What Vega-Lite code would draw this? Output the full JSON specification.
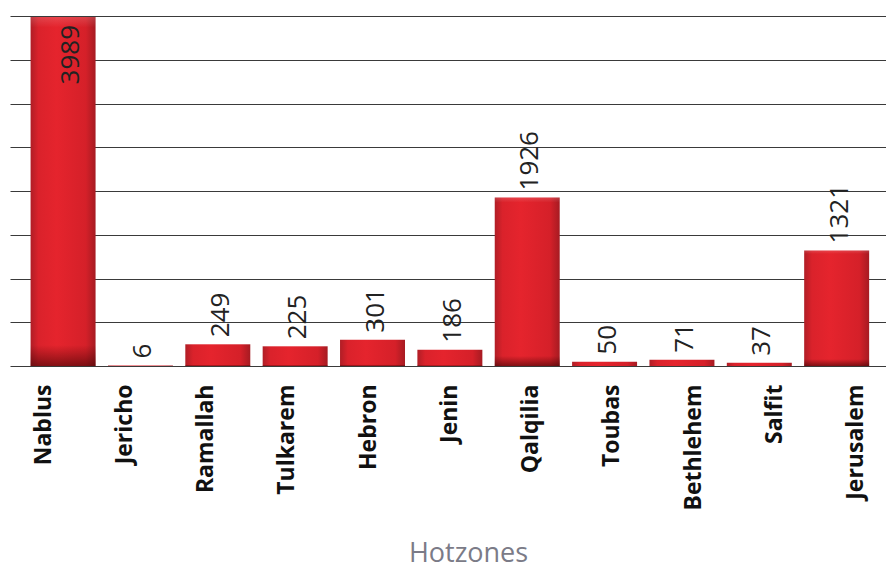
{
  "$schema": "https://vega.github.io/schema/vega-lite/v6.json",
  "autosize": "none",
  "padding": {"left": 10, "top": 16, "right": 0, "bottom": 202},
  "width": 876,
  "height": 350,
  "background": "white",
  "config": {"view": {"stroke": null}, "font": "Open Sans"},
  "data": {"values": [
    {"zone": "Nablus", "count": 3989},
    {"zone": "Jericho", "count": 6},
    {"zone": "Ramallah", "count": 249},
    {"zone": "Tulkarem", "count": 225},
    {"zone": "Hebron", "count": 301},
    {"zone": "Jenin", "count": 186},
    {"zone": "Qalqilia", "count": 1926},
    {"zone": "Toubas", "count": 50},
    {"zone": "Bethlehem", "count": 71},
    {"zone": "Salfit", "count": 37},
    {"zone": "Jerusalem", "count": 1321}
  ]},
  "encoding": {
    "x": {
      "field": "zone", "type": "nominal", "sort": null,
      "scale": {"paddingInner": 0.16, "paddingOuter": 0.242, "align": 0.55},
      "axis": {
        "title": "Hotzones", "titleFont": "Open Sans", "titleFontSize": 27, "titleFontWeight": "normal",
        "titleColor": "#7b7b87", "titleX": 458, "titleY": 195, "titleBaseline": "alphabetic", "titleAnchor": "middle",
        "labelAngle": -90, "labelAlign": "right", "labelBaseline": "middle",
        "labelFont": "Open Sans", "labelFontSize": 23, "labelFontWeight": "bold", "labelColor": "#111",
        "labelPadding": 18, "labelOffset": {"expr": "(datum.index - 0.5) * 39"},
        "ticks": false, "domain": false, "grid": false
      }
    },
    "y": {
      "field": "count", "type": "quantitative",
      "scale": {"domain": [0, 4000], "nice": false},
      "axis": {
        "title": null, "labels": false, "ticks": false, "domain": false,
        "values": [0, 500, 1000, 1500, 2000, 2500, 3000, 3500, 4000],
        "grid": true, "gridColor": "#3a3a3a", "gridWidth": 1, "gridOpacity": 1
      }
    }
  },
  "layer": [
    {
      "mark": {
        "type": "bar",
        "color": {
          "gradient": "linear", "x1": 0, "y1": 0, "x2": 1, "y2": 0,
          "stops": [
            {"offset": 0, "color": "#b01e26"},
            {"offset": 0.12, "color": "#da222b"},
            {"offset": 0.4, "color": "#e5242d"},
            {"offset": 0.85, "color": "#d52029"},
            {"offset": 1, "color": "#a61b22"}
          ]
        }
      }
    },
    {
      "mark": {
        "type": "bar",
        "color": {
          "gradient": "linear", "x1": 0, "y1": 0, "x2": 0, "y2": 1,
          "stops": [
            {"offset": 0, "color": "rgba(255,255,255,0.15)"},
            {"offset": 0.03, "color": "rgba(255,255,255,0)"},
            {"offset": 0.94, "color": "rgba(60,0,0,0)"},
            {"offset": 1, "color": "rgba(50,0,0,0.55)"}
          ]
        }
      }
    },
    {
      "transform": [{"filter": "datum.count < 3000"}],
      "mark": {"type": "text", "angle": 270, "align": "left", "baseline": "middle", "dx": 7, "dy": 3, "font": "Open Sans", "fontSize": 26, "color": "#222"},
      "encoding": {"text": {"field": "count", "type": "quantitative"}}
    },
    {
      "transform": [{"filter": "datum.count >= 3000"}],
      "mark": {"type": "text", "angle": 270, "align": "right", "baseline": "middle", "dx": -8, "dy": 8, "font": "Open Sans", "fontSize": 26, "color": "#222"},
      "encoding": {"text": {"field": "count", "type": "quantitative"}}
    }
  ]
}
